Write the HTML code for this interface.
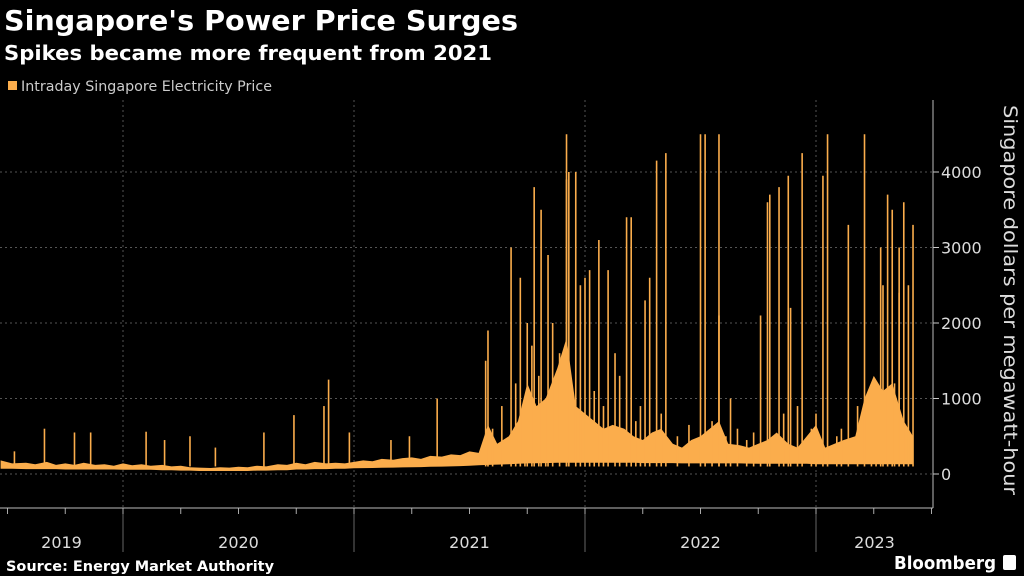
<!DOCTYPE html>
<html><head><meta charset="utf-8"><style>
html,body{margin:0;padding:0;background:#000;}
svg{display:block;}
text{font-family:"DejaVu Sans","Liberation Sans",sans-serif;}
</style></head><body>
<svg id="chart" width="1024" height="576" viewBox="0 0 1024 576">
  <text x="4" y="30" font-size="28" font-weight="bold" fill="#fff" textLength="514" lengthAdjust="spacingAndGlyphs">Singapore's Power Price Surges</text>
  <text x="4" y="60" font-size="20" font-weight="bold" fill="#fff" textLength="488" lengthAdjust="spacingAndGlyphs">Spikes became more frequent from 2021</text>
  <rect x="8" y="81" width="9" height="9" fill="#fbad4c"/>
  <text x="21" y="91" font-size="14" fill="#ccc" textLength="251" lengthAdjust="spacingAndGlyphs">Intraday Singapore Electricity Price</text>
  <g id="grid"></g>
  <g id="marks"></g>
  <g id="axes"></g>
  <text transform="translate(1004,300) rotate(90)" text-anchor="middle" font-size="19" fill="#ddd" textLength="390" lengthAdjust="spacingAndGlyphs">Singapore dollars per megawatt-hour</text>
  <text x="6" y="571" font-size="14" font-weight="bold" fill="#fff" textLength="268" lengthAdjust="spacingAndGlyphs">Source: Energy Market Authority</text>
  <text x="894" y="569" font-size="18" font-weight="bold" fill="#fff" textLength="102" lengthAdjust="spacingAndGlyphs">Bloomberg</text>
  <rect x="1003" y="555" width="13" height="15" rx="2" fill="#fff"/>
</svg>
<script>
const yTicks = [0, 1000, 2000, 3000, 4000];
const yTickLabels = ["0", "1000", "2000", "3000", "4000"];
const years = [2019, 2020, 2021, 2022, 2023];
const yearLabels = ["2019", "2020", "2021", "2022", "2023"];
const bandT = [2019.47,2019.52,2019.58,2019.62,2019.67,2019.71,2019.75,2019.79,2019.83,2019.88,2019.92,2019.96,2020.0,2020.04,2020.08,2020.12,2020.17,2020.21,2020.25,2020.29,2020.33,2020.38,2020.42,2020.46,2020.5,2020.54,2020.58,2020.62,2020.67,2020.71,2020.75,2020.79,2020.83,2020.88,2020.92,2020.96,2021.0,2021.04,2021.08,2021.12,2021.17,2021.21,2021.25,2021.29,2021.33,2021.38,2021.42,2021.46,2021.5,2021.54,2021.58,2021.62,2021.67,2021.71,2021.75,2021.79,2021.83,2021.88,2021.92,2021.96,2022.0,2022.04,2022.08,2022.12,2022.17,2022.21,2022.25,2022.29,2022.33,2022.38,2022.42,2022.46,2022.5,2022.54,2022.58,2022.62,2022.67,2022.71,2022.75,2022.79,2022.83,2022.88,2022.92,2022.96,2023.0,2023.04,2023.08,2023.12,2023.17,2023.21,2023.25,2023.29,2023.33,2023.38,2023.42];
const bandLow = [70,70,65,65,65,65,60,60,60,60,60,60,55,55,55,55,50,50,45,45,40,40,40,40,40,40,45,45,50,50,60,60,65,65,70,70,75,78,80,82,85,88,90,92,95,98,100,105,110,115,120,125,130,135,140,142,145,148,150,150,150,150,150,150,150,150,145,145,145,145,140,140,140,140,140,140,140,138,135,135,135,135,135,135,130,130,130,130,130,130,130,130,130,130,130];
const bandHigh = [180,140,150,130,160,120,140,120,150,120,130,110,140,115,130,110,120,100,110,90,85,80,90,85,95,90,110,100,130,120,150,130,160,140,150,140,160,180,170,200,190,210,220,200,240,230,260,250,300,280,650,400,500,700,1200,900,1000,1400,1800,900,800,700,600,650,600,500,450,550,600,400,350,450,500,600,700,400,380,350,400,450,550,400,350,500,650,350,400,450,500,1000,1300,1100,1200,700,500];
const spikeT = [2019.53,2019.66,2019.79,2019.86,2020.10,2020.18,2020.29,2020.40,2020.61,2020.74,2020.87,2020.89,2020.98,2021.16,2021.24,2021.36,2021.57,2021.58,2021.68,2021.72,2021.75,2021.78,2021.81,2021.84,2021.86,2021.92,2021.92,2021.93,2021.96,2021.98,2022.00,2022.02,2022.06,2022.10,2022.13,2022.18,2022.20,2022.26,2022.28,2022.31,2022.35,2022.50,2022.52,2022.58,2022.58,2022.63,2022.76,2022.79,2022.80,2022.84,2022.88,2022.89,2022.94,2023.03,2023.05,2023.14,2023.21,2023.28,2023.29,2023.31,2023.33,2023.36,2023.36,2023.38,2023.40,2023.42,2021.60,2021.64,2021.70,2021.74,2021.77,2021.80,2021.83,2021.89,2022.04,2022.08,2022.15,2022.22,2022.24,2022.33,2022.40,2022.45,2022.55,2022.61,2022.66,2022.70,2022.73,2022.86,2022.92,2022.98,2023.00,2023.09,2023.11,2023.18,2023.24,2023.26,2023.34];
const spikeV = [300,600,550,550,560,450,500,350,550,780,900,1250,550,450,500,1000,1500,1900,3000,2600,2000,3800,3500,2900,2000,3900,4500,4000,4000,2500,2600,2700,3100,2700,1600,3400,3400,2300,2600,4150,4250,4500,4500,4500,2100,1000,2100,3600,3700,3800,3950,2200,4250,3950,4500,3300,4500,3000,2500,3700,3500,2400,3000,3600,2500,3300,600,900,1200,800,1700,1300,1000,1600,1100,900,1300,700,900,800,500,650,700,500,600,450,550,800,900,600,800,500,600,900,1100,1000,1200];

const NS = "http://www.w3.org/2000/svg";
const X0 = 123, PXY = 231;
function xs(t){ return X0 + (t - 2020) * PXY; }
const Y0 = 474, PXV = 0.0755;
function ys(v){ return Y0 - v * PXV; }
function mk(tag, attrs, parent){ const e = document.createElementNS(NS, tag); for (const k in attrs) e.setAttribute(k, attrs[k]); parent.appendChild(e); return e; }

const grid = document.getElementById('grid');
const axes = document.getElementById('axes');
const marks = document.getElementById('marks');

yTicks.forEach((v, i) => {
  const l = mk('line', {x1:0, x2:933, y1:ys(v), y2:ys(v), stroke:'#555', 'stroke-width':1, 'stroke-dasharray':'2,3'}, grid);
  
  
  const tk = mk('line', {x1:933, x2:939, y1:ys(v), y2:ys(v), stroke:'#ccc', 'stroke-width':1}, axes);
  
  
  const t = mk('text', {x:941, y:ys(v)+6, 'font-size':16, fill:'#ddd'}, axes);
  t.textContent = yTickLabels[i];
  
  
});

years.forEach((yr, i) => {
  const xd = xs(yr + 1);
  if (yr < 2023) {
    const g = mk('line', {x1:xd, x2:xd, y1:100, y2:508, stroke:'#555', 'stroke-width':1, 'stroke-dasharray':'2,3'}, grid);
    
    
    const s = mk('line', {x1:xd, x2:xd, y1:508, y2:552, stroke:'#666', 'stroke-width':1}, axes);
    
    
  }
  for (let q = 0; q < 4; q++) {
    const xq = xs(yr + q * 0.25);
    if (xq > 0 && xq < 933) {
      const m = mk('line', {x1:xq, x2:xq, y1:508, y2:514, stroke:'#aaa', 'stroke-width':1}, axes);
      
      
    }
  }
  let a = Math.max(0, xs(yr)), b = Math.min(933, xs(yr + 1));
  const t = mk('text', {x:(a + b) / 2, y:548, 'font-size':16, fill:'#ddd', 'text-anchor':'middle'}, axes);
  t.textContent = yearLabels[i];
  
  
});

const xa = mk('line', {x1:0, x2:933, y1:508, y2:508, stroke:'#bbb', 'stroke-width':1}, axes);


const ya = mk('line', {x1:933, x2:933, y1:100, y2:508, stroke:'#bbb', 'stroke-width':1}, axes);



let d = '';
bandT.forEach((t, i) => { d += (i ? 'L' : 'M') + xs(t).toFixed(1) + ',' + ys(bandHigh[i]).toFixed(1); });
for (let i = bandT.length - 1; i >= 0; i--) d += 'L' + xs(bandT[i]).toFixed(1) + ',' + ys(bandLow[i]).toFixed(1);
const band = mk('path', {d: d + 'Z', fill:'#fbad4c'}, marks);



spikeT.forEach((t, i) => {
  const x = xs(t);
  const s = mk('line', {x1:x, x2:x, y1:ys(100), y2:ys(spikeV[i]), stroke:'#fbad4c', 'stroke-width':1.6}, marks);
  
  
});
</script>
</body></html>
